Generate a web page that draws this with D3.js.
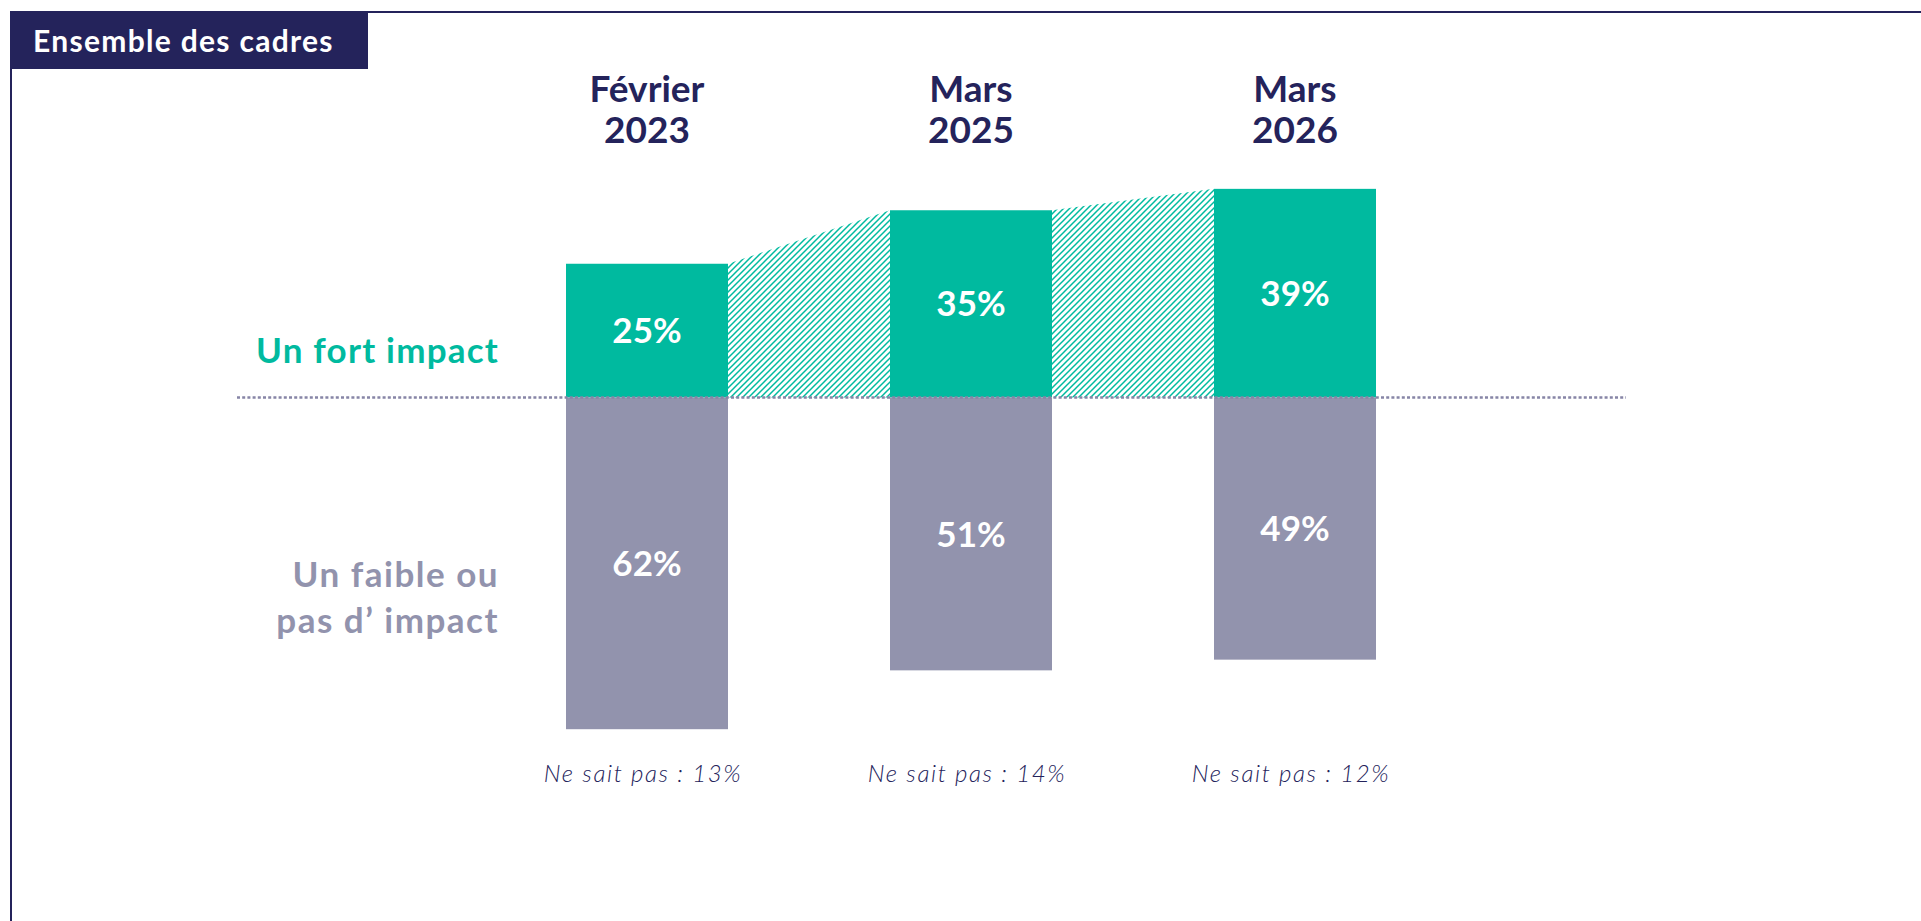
<!DOCTYPE html>
<meta charset="utf-8">
<style>
body { margin: 0; background: #fff; }
svg { display: block; font-family: "Lato", "DejaVu Sans", sans-serif; }
</style>
<svg width="1921" height="921"></svg>
<script src="https://d3js.org/d3.v7.min.js"></script>
<script>

var periods = ["Février 2023", "Mars 2025", "Mars 2026"];
var periodLines = [["Février", "2023"], ["Mars", "2025"], ["Mars", "2026"]];
var fortImpact = [25, 35, 39];
var faibleImpact = [62, 51, 49];
var neSaitPas = [13, 14, 12];

var navy = "#24235b",
	green = "#00ba9f",
	grey = "#9293ad";

var svg = d3.select("svg");

var x = d3.scaleBand().domain(periods).range([404, 1538]).paddingInner(0.5).paddingOuter(0.5),
	y = d3.scaleLinear().domain([-65, 45]).range([745.25, 156.75]);

var bw = x.bandwidth();

// frame + title tab
svg.append("path")
	.attr("d", "M11,921 L11,12 L1921,12")
	.attr("fill", "none")
	.attr("stroke", navy)
	.attr("stroke-width", 2);

svg.append("rect")
	.attr("x", 11).attr("y", 12)
	.attr("width", 357).attr("height", 57)
	.attr("fill", navy);

svg.append("text")
	.attr("x", 33).attr("y", 52)
	.attr("fill", "#fff")
	.attr("font-size", 30)
	.attr("font-weight", 700)
	.attr("letter-spacing", 1.3)
	.text("Ensemble des cadres");

// hatch pattern for the links between green bars
var defs = svg.append("defs");
defs.append("pattern")
	.attr("id", "hatch")
	.attr("patternUnits", "userSpaceOnUse")
	.attr("width", 6).attr("height", 6)
	.append("path")
	.attr("d", "M0,6 L6,0 M-1,1 L1,-1 M5,7 L7,5")
	.attr("stroke", green)
	.attr("stroke-width", 1.5);

var links = d3.range(periods.length - 1).map(function(i) {
	return [
		[x(periods[i]) + bw, y(fortImpact[i])],
		[x(periods[i + 1]), y(fortImpact[i + 1])],
		[x(periods[i + 1]), y(0)],
		[x(periods[i]) + bw, y(0)]
	];
});

svg.append("g").selectAll("path")
	.data(links)
	.enter().append("path")
	.attr("d", function(d) { return "M" + d.join("L") + "Z"; })
	.attr("fill", "url(#hatch)");

// bars
svg.append("g").selectAll("rect")
	.data(periods)
	.enter().append("rect")
	.attr("x", function(d) { return x(d); })
	.attr("width", bw)
	.attr("y", function(d, i) { return y(fortImpact[i]); })
	.attr("height", function(d, i) { return y(0) - y(fortImpact[i]); })
	.attr("fill", green);

svg.append("g").selectAll("rect")
	.data(periods)
	.enter().append("rect")
	.attr("x", function(d) { return x(d); })
	.attr("width", bw)
	.attr("y", y(0))
	.attr("height", function(d, i) { return y(-faibleImpact[i]) - y(0); })
	.attr("fill", grey);

// dotted baseline
svg.append("line")
	.attr("x1", 237).attr("x2", 1626)
	.attr("y1", y(0)).attr("y2", y(0))
	.attr("stroke", "#8785a6")
	.attr("stroke-width", 2.5)
	.attr("stroke-dasharray", "3,2.2");

// values
svg.append("g").selectAll("text")
	.data(periods)
	.enter().append("text")
	.attr("x", function(d) { return x(d) + bw / 2; })
	.attr("y", function(d, i) { return (y(fortImpact[i]) + y(0)) / 2; })
	.attr("dy", "0.36em")
	.attr("text-anchor", "middle")
	.attr("fill", "#fff")
	.attr("font-size", 35)
	.attr("font-weight", 700)
	.text(function(d, i) { return fortImpact[i] + "%"; });

svg.append("g").selectAll("text")
	.data(periods)
	.enter().append("text")
	.attr("x", function(d) { return x(d) + bw / 2; })
	.attr("y", function(d, i) { return (y(-faibleImpact[i]) + y(0)) / 2; })
	.attr("dy", "0.36em")
	.attr("text-anchor", "middle")
	.attr("fill", "#fff")
	.attr("font-size", 35)
	.attr("font-weight", 700)
	.text(function(d, i) { return faibleImpact[i] + "%"; });

// period headers
var head = svg.append("g").selectAll("text")
	.data(periods)
	.enter().append("text")
	.attr("text-anchor", "middle")
	.attr("fill", navy)
	.attr("font-size", 37)
	.attr("font-weight", 700);

head.selectAll("tspan")
	.data(function(d, i) { return periodLines[i].map(function(t) { return {t: t, x: x(d) + bw / 2}; }); })
	.enter().append("tspan")
	.attr("x", function(d) { return d.x; })
	.attr("y", function(d, j) { return 102 + j * 41; })
	.text(function(d) { return d.t; });

// "Ne sait pas" notes
svg.append("g").selectAll("text")
	.data(periods)
	.enter().append("text")
	.attr("x", function(d) { return x(d) + bw / 2 - 4; })
	.attr("y", 782)
	.attr("text-anchor", "middle")
	.attr("fill", navy)
	.attr("font-size", 24)
	.attr("font-style", "italic")
	.attr("font-weight", 300)
	.attr("letter-spacing", 1.6)
	.text(function(d, i) { return "Ne sait pas : " + neSaitPas[i] + "%"; });

// row labels
svg.append("text")
	.attr("x", 499).attr("y", 363)
	.attr("text-anchor", "end")
	.attr("fill", green)
	.attr("font-size", 35)
	.attr("font-weight", 700)
	.attr("letter-spacing", 1.2)
	.text("Un fort impact");

svg.append("text")
	.attr("text-anchor", "end")
	.attr("fill", grey)
	.attr("font-size", 35)
	.attr("font-weight", 700)
	.attr("letter-spacing", 1.5)
	.selectAll("tspan")
	.data(["Un faible ou", "pas d\u2019 impact"])
	.enter().append("tspan")
	.attr("x", 499)
	.attr("y", function(d, j) { return 587 + j * 46; })
	.text(function(d) { return d; });

</script>
